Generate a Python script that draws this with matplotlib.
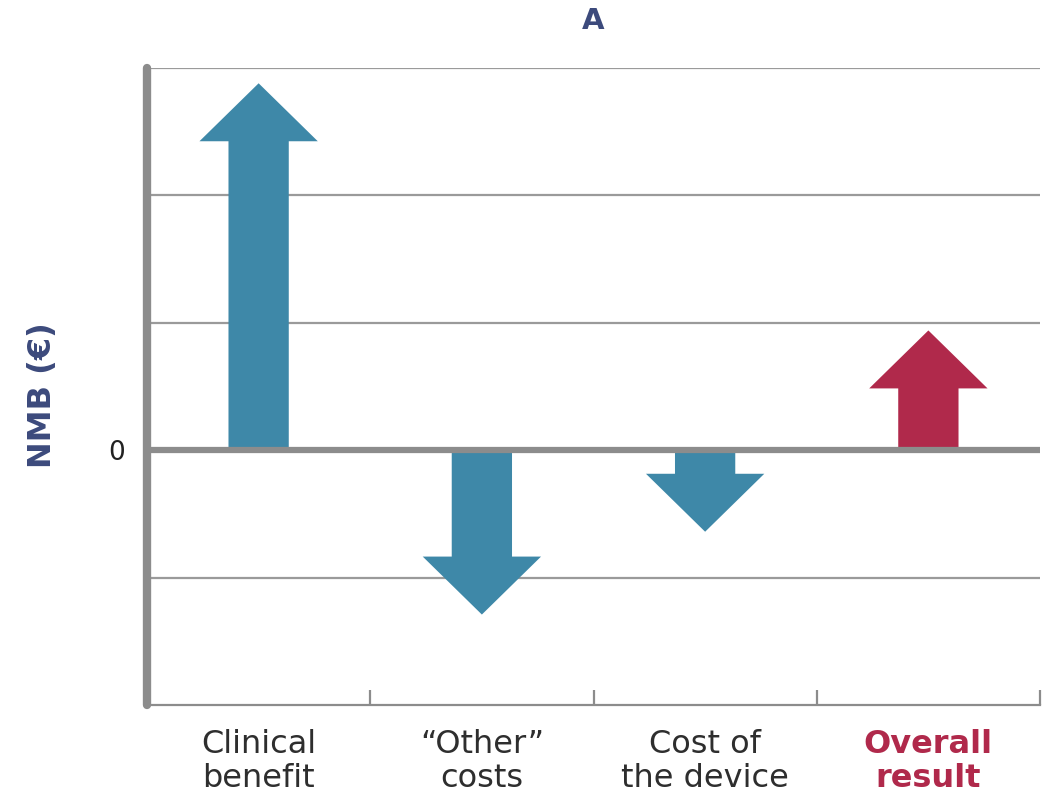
import matplotlib
matplotlib.use('Agg')
import matplotlib.pyplot as plt

# data (units = gridline steps)
categories = ['Clinical\nbenefit', '\u201cOther\u201d\ncosts', 'Cost of\nthe device', 'Overall\nresult']
values = [2.88, -1.29, -0.64, 0.94]
arrow_colors = ['#3e88a8', '#3e88a8', '#3e88a8', '#b0294b']

plt.rcParams['font.family'] = ['DejaVu Sans']

fig = plt.figure(figsize=(10.43, 7.98), dpi=100)
ax = fig.add_axes([147 / 1043, 1 - 705 / 798, (1040 - 147) / 1043, (705 - 68) / 798])

ax.set_xlim(-0.5, 3.5)
ax.set_ylim(-2, 3)

# grid lines
for g in [-1, 1, 2, 3]:
    ax.axhline(g, color='#9a9a9a', lw=1.6, zorder=1)
ax.axhline(0, color='#8c8c8c', lw=4.5, zorder=3, solid_capstyle='round')

# arrows
for i, (v, c) in enumerate(zip(values, arrow_colors)):
    ax.arrow(i, 0, 0, v, width=0.27, head_width=0.53, head_length=0.455,
             length_includes_head=True, color=c, lw=0, zorder=2)

# spines
for s in ['top', 'right']:
    ax.spines[s].set_visible(False)
ax.spines['left'].set_color('#8c8c8c')
ax.spines['left'].set_linewidth(6)
ax.spines['left'].set_capstyle('round')
ax.spines['bottom'].set_color('#8c8c8c')
ax.spines['bottom'].set_linewidth(1.6)

# y ticks: only zero
ax.set_yticks([0])
ax.set_yticklabels(['0'], fontsize=19, color='#222222')
ax.tick_params(axis='y', length=0, pad=16)

# x ticks: labels at categories, marks between them
ax.set_xticks(range(len(categories)))
ax.set_xticklabels(categories, fontsize=23, color='#2e2e2e', linespacing=1.15)
ax.set_xticks([0.5, 1.5, 2.5, 3.5], minor=True)
ax.tick_params(axis='x', which='major', length=0, pad=17)
ax.tick_params(axis='x', which='minor', direction='in', length=11, width=1.6, color='#8c8c8c')
last = ax.get_xticklabels()[-1]
last.set_color('#b0294b')
last.set_fontweight('bold')

ax.set_ylabel('NMB (\u20ac)', fontsize=23, fontweight='bold', color='#3c4a7c')
ax.yaxis.set_label_coords(-0.1, 0.487)
ax.set_title('A', fontsize=21, fontweight='bold', color='#3c4a7c', pad=28)

fig.savefig('out.png', dpi=100)
